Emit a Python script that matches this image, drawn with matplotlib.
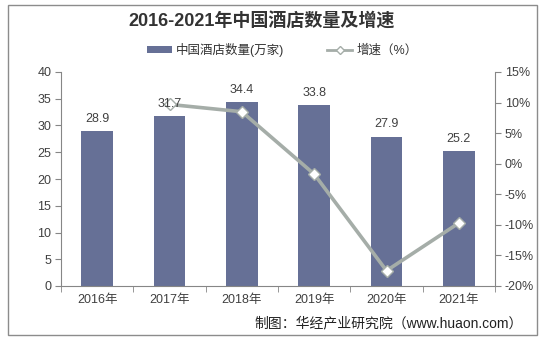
import matplotlib
matplotlib.use("Agg")
import matplotlib.pyplot as plt
from matplotlib.patches import Rectangle
from matplotlib.lines import Line2D
from matplotlib.patches import Patch

plt.rcParams['font.family'] = ['Liberation Sans', 'Noto Sans CJK SC', 'DejaVu Sans']

years = ['2016年', '2017年', '2018年', '2019年', '2020年', '2021年']
hotels = [28.9, 31.7, 34.4, 33.8, 27.9, 25.2]
growth = [None, 9.7, 8.5, -1.7, -17.5, -9.7]
left_ticks = [0, 5, 10, 15, 20, 25, 30, 35, 40]
right_ticks = [-20, -15, -10, -5, 0, 5, 10, 15]

W, H = 545, 341
fig = plt.figure(figsize=(W / 100, H / 100), dpi=100)
ax = fig.add_axes([61 / W, 1 - 286 / H, (495 - 61) / W, (286 - 72) / H])

bar_color = '#667096'
line_color = '#A5ADA8'
text_color = '#404040'
axis_color = '#868686'

x = list(range(len(years)))
ax.bar(x, hotels, width=0.44, color=bar_color, zorder=2)

ax.set_xlim(-0.5, len(years) - 0.5)
ax.set_ylim(0, 40)
ax.set_yticks(left_ticks)
ax.set_yticklabels([str(t) for t in left_ticks], fontsize=9, color=text_color)
ax.set_xticks(x)
ax.set_xticklabels(years, fontsize=9, color=text_color)
ax.tick_params(axis='x', length=0, pad=6)
ax.set_xticks([i - 0.5 for i in range(len(years) + 1)], minor=True)
ax.tick_params(axis='x', which='minor', length=4, color=axis_color, direction='out')
ax.tick_params(axis='y', length=4, color=axis_color, direction='out', pad=3)
ax.spines['top'].set_visible(False)
ax.spines['right'].set_visible(False)
for s in ['left', 'bottom']:
    ax.spines[s].set_color(axis_color)

ax2 = ax.twinx()
gx = [xi for xi, g in zip(x, growth) if g is not None]
gy = [g for g in growth if g is not None]
ax2.plot(gx, gy, color=line_color, lw=2.6, marker='D', markersize=6,
         markerfacecolor='white', markeredgecolor=line_color, markeredgewidth=1, zorder=3)
ax2.set_ylim(-20, 15)
ax2.set_yticks(right_ticks)
ax2.set_yticklabels([f'{t}%' for t in right_ticks], fontsize=9, color=text_color)
ax2.tick_params(axis='y', length=4, color=axis_color, direction='out', pad=3)
for s in ['top', 'left', 'bottom']:
    ax2.spines[s].set_visible(False)
ax2.spines['right'].set_color(axis_color)

# bar value labels drawn on top of the line
for xi, v in zip(x, hotels):
    ax2.text(xi, v + 1.2, f'{v}', ha='center', va='bottom', fontsize=9, color=text_color,
             transform=ax.transData, zorder=5)

fig.text(262 / W, 1 - 22 / H, '2016-2021年中国酒店数量及增速', ha='center', va='center',
         fontsize=13, fontweight='bold', color='#333333')

handles = [Patch(facecolor=bar_color, edgecolor='none'),
           Line2D([0], [0], color=line_color, lw=2, marker='D', markersize=4,
                  markerfacecolor='white', markeredgecolor=line_color)]
fig.legend(handles, ['中国酒店数量(万家)', '增速（%）'], loc='center',
           bbox_to_anchor=(282 / W, 1 - 50 / H), ncol=2, frameon=False, fontsize=9,
           handlelength=2.0, handleheight=0.55, columnspacing=3.5, handletextpad=0.3,
           labelcolor='#333333')

fig.text(523 / W, 1 - 323 / H, '制图：华经产业研究院（www.huaon.com）', ha='right', va='center',
         fontsize=10, color='#222222')

fig.patches.append(Rectangle((8 / W, 1 - 335 / H), (537 - 8) / W, (335 - 5) / H,
                             transform=fig.transFigure, fill=False, edgecolor='#8C8C8C', lw=1))

fig.savefig('out.png', dpi=100)
